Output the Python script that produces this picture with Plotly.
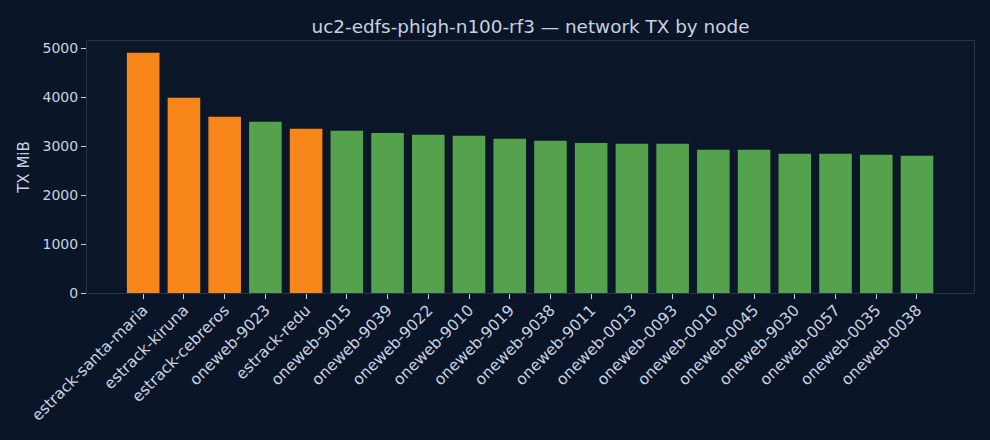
import plotly.graph_objects as go

nodes = ["estrack-santa-maria", "estrack-kiruna", "estrack-cebreros", "oneweb-9023",
         "estrack-redu", "oneweb-9015", "oneweb-9039", "oneweb-9022", "oneweb-9010",
         "oneweb-9019", "oneweb-9038", "oneweb-9011", "oneweb-0013", "oneweb-0093",
         "oneweb-0010", "oneweb-0045", "oneweb-9030", "oneweb-0057", "oneweb-0035",
         "oneweb-0038"]
tx_mib = [4910, 3990, 3600, 3500, 3355, 3315, 3272, 3232, 3212, 3152,
          3110, 3068, 3048, 3048, 2925, 2925, 2845, 2845, 2825, 2805]

ORANGE = "#F7871A"
GREEN = "#55A24C"
colors = [ORANGE if n.startswith("estrack") else GREEN for n in nodes]

BG = "#0B1528"
TEXT = "#C8D2E0"
FRAME = "#26344B"

fig = go.Figure(go.Bar(
    x=nodes, y=tx_mib, marker=dict(color=colors, line=dict(width=0)),
    width=0.8,
))

fig.update_layout(
    width=990, height=440,
    paper_bgcolor=BG, plot_bgcolor="#0C1629",
    margin=dict(l=87, r=16, t=41, b=147),
    font=dict(family="DejaVu Sans", color=TEXT, size=14),
    title=dict(text="uc2-edfs-phigh-n100-rf3 — network TX by node",
               xref="paper", x=0.5, xanchor="center", y=0.94, yanchor="middle",
               font=dict(size=18.4, color=TEXT)),
    showlegend=False,
)
fig.update_xaxes(
    range=[-1.38, 20.4], tickangle=-45, showgrid=False, zeroline=False,
    showline=True, linecolor=FRAME, linewidth=1, mirror=True, automargin=False,
    ticks="outside", ticklen=5, tickcolor=TEXT, tickfont=dict(size=15.5, color=TEXT),
    ticklabelstandoff=-4,
)
fig.update_yaxes(
    range=[0, 5150], showgrid=False, zeroline=False,
    showline=True, linecolor=FRAME, linewidth=1, mirror=True, automargin=False,
    ticks="outside", ticklen=5, tickcolor=TEXT, tickvals=[0, 1000, 2000, 3000, 4000, 5000],
    tickfont=dict(size=14, color=TEXT),
    title=dict(text="TX MiB", font=dict(size=15, color=TEXT), standoff=9),
)

fig.write_html("out.html", config={"displayModeBar": False},
               post_script="document.body.style.margin='0';document.body.style.background='#0B1528';")
